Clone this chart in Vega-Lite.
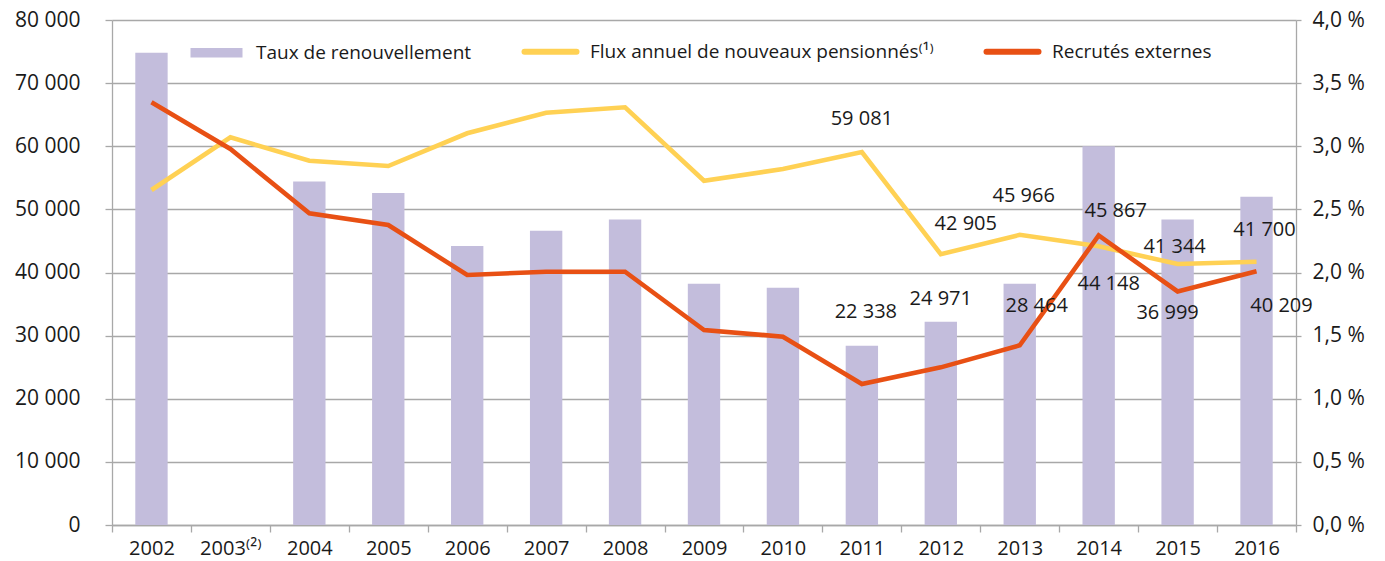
{
  "$schema": "https://vega.github.io/schema/vega-lite/v6.json",
  "width": 1184,
  "height": 505,
  "autosize": {"type": "none"},
  "padding": {"left": 112, "top": 20, "right": 89, "bottom": 36},
  "background": "white",
  "config": {
    "locale": {"number": {"decimal": ",", "thousands": "\u00a0", "grouping": [3], "currency": ["", " €"]}},
    "font": "Open Sans",
    "view": {"stroke": null},
    "axis": {"labelFont": "Open Sans", "labelColor": "#1a1a1a", "domainColor": "#a8a8a8", "tickColor": "#a8a8a8", "gridColor": "#a8a8a8", "domainWidth": 1.3, "tickWidth": 1.3, "gridWidth": 1.3, "title": null}
  },
  "data": {
    "values": [
      {"year": "2002", "taux": 3.74, "flux": 53069, "recrutes": 66963},
      {"year": "2003", "taux": null, "flux": 61418, "recrutes": 59564},
      {"year": "2004", "taux": 2.72, "flux": 57711, "recrutes": 49378},
      {"year": "2005", "taux": 2.63, "flux": 56871, "recrutes": 47525},
      {"year": "2006", "taux": 2.21, "flux": 62051, "recrutes": 39604},
      {"year": "2007", "taux": 2.33, "flux": 65315, "recrutes": 40127},
      {"year": "2008", "taux": 2.42, "flux": 66170, "recrutes": 40127},
      {"year": "2009", "taux": 1.91, "flux": 54543, "recrutes": 30891},
      {"year": "2010", "taux": 1.88, "flux": 56396, "recrutes": 29830},
      {"year": "2011", "taux": 1.42, "flux": 59081, "recrutes": 22338},
      {"year": "2012", "taux": 1.61, "flux": 42905, "recrutes": 24971},
      {"year": "2013", "taux": 1.91, "flux": 45966, "recrutes": 28464},
      {"year": "2014", "taux": 3.0, "flux": 44148, "recrutes": 45867},
      {"year": "2015", "taux": 2.42, "flux": 41344, "recrutes": 36999},
      {"year": "2016", "taux": 2.6, "flux": 41700, "recrutes": 40209}
    ]
  },
  "encoding": {
    "x": {
      "field": "year", "type": "ordinal",
      "scale": {"paddingInner": 0, "paddingOuter": 0},
      "axis": {"labelAngle": 0, "labelFontSize": 20, "labelPadding": 6, "tickSize": 7, "tickBand": "extent", "labelExpr": "datum.value === '2003' ? '2003⁽²⁾' : datum.value"}
    }
  },
  "layer": [
    {
      "mark": {"type": "bar", "width": {"band": 0.41}},
      "encoding": {
        "y": {"field": "taux", "type": "quantitative", "scale": {"domain": [0, 4]},
          "axis": {"orient": "right", "values": [0, 0.5, 1, 1.5, 2, 2.5, 3, 3.5, 4], "grid": false, "tickSize": 5, "labelPadding": 11, "labelFontSize": 21, "labelExpr": "format(datum.value, '.1f') + ' %'"}},
        "color": {
          "datum": "Taux de renouvellement",
          "scale": {"domain": ["Taux de renouvellement", "Flux annuel de nouveaux pensionnés⁽¹⁾", "Recrutés externes"], "range": ["#c3bddc", "#ffd154", "#e85014"]},
          "legend": {
            "orient": "none", "legendX": 95, "legendY": 22, "direction": "horizontal", "columns": 3,
            "title": null, "padding": 0, "labelFontSize": 19, "labelFont": "Open Sans", "labelColor": "#1a1a1a",
            "labelLimit": 1000,
            "labelOffset": 30, "columnPadding": 40, "symbolSize": 2704,
            "symbolType": "M-1,-0.18H1V0.18H-1Z",
            "encode": {
              "symbols": {
                "update": {
                  "shape": {"signal": "datum.value === 'Taux de renouvellement' ? 'M-1,-0.18H1V0.18H-1Z' : 'M-1,0H1'"},
                  "fill": {"scale": "color", "field": "value"},
                  "stroke": {"scale": "color", "field": "value"},
                  "strokeWidth": {"signal": "datum.value === 'Taux de renouvellement' ? 0 : 6"},
                  "strokeCap": {"value": "round"},
                  "opacity": {"value": 1}
                }
              }
            }
          }
        }
      }
    },
    {
      "layer": [
        {
          "mark": {"type": "line", "strokeWidth": 4.6},
          "encoding": {
            "y": {"field": "flux", "type": "quantitative", "scale": {"domain": [0, 80000]},
              "axis": {"orient": "left", "values": [0, 10000, 20000, 30000, 40000, 50000, 60000, 70000, 80000], "format": ",d", "grid": true, "tickSize": 7, "labelPadding": 25, "labelFontSize": 21}},
            "color": {"datum": "Flux annuel de nouveaux pensionnés⁽¹⁾"}
          }
        },
        {
          "mark": {"type": "line", "strokeWidth": 4.6},
          "encoding": {
            "y": {"field": "recrutes", "type": "quantitative"},
            "color": {"datum": "Recrutés externes"}
          }
        },
        {
          "transform": [{"filter": "datum.year >= '2011'"}],
          "mark": {"type": "text", "fontSize": 20, "font": "Open Sans", "color": "#1a1a1a",
            "dx": {"expr": "datum.year === '2012' ? 25 : datum.year === '2013' ? 4 : datum.year === '2014' ? 10 : datum.year === '2015' ? -3 : datum.year === '2016' ? 8 : 0"},
            "dy": {"expr": "datum.year === '2011' ? -33 : datum.year === '2012' ? -30 : datum.year === '2013' ? -39 : datum.year === '2014' ? 38 : datum.year === '2015' ? -17 : -32"}},
          "encoding": {
            "y": {"field": "flux", "type": "quantitative"},
            "text": {"field": "flux", "type": "quantitative", "format": ",d"}
          }
        },
        {
          "transform": [{"filter": "datum.year >= '2011'"}],
          "mark": {"type": "text", "fontSize": 20, "font": "Open Sans", "color": "#1a1a1a",
            "dx": {"expr": "datum.year === '2011' ? 4 : datum.year === '2012' ? 0 : datum.year === '2013' ? 17 : datum.year === '2014' ? 17 : datum.year === '2015' ? -10 : 25"},
            "dy": {"expr": "datum.year === '2011' ? -72 : datum.year === '2012' ? -68 : datum.year === '2013' ? -39 : datum.year === '2014' ? -24 : datum.year === '2015' ? 22 : 35"}},
          "encoding": {
            "y": {"field": "recrutes", "type": "quantitative"},
            "text": {"field": "recrutes", "type": "quantitative", "format": ",d"}
          }
        }
      ]
    }
  ],
  "resolve": {"scale": {"y": "independent"}}
}
